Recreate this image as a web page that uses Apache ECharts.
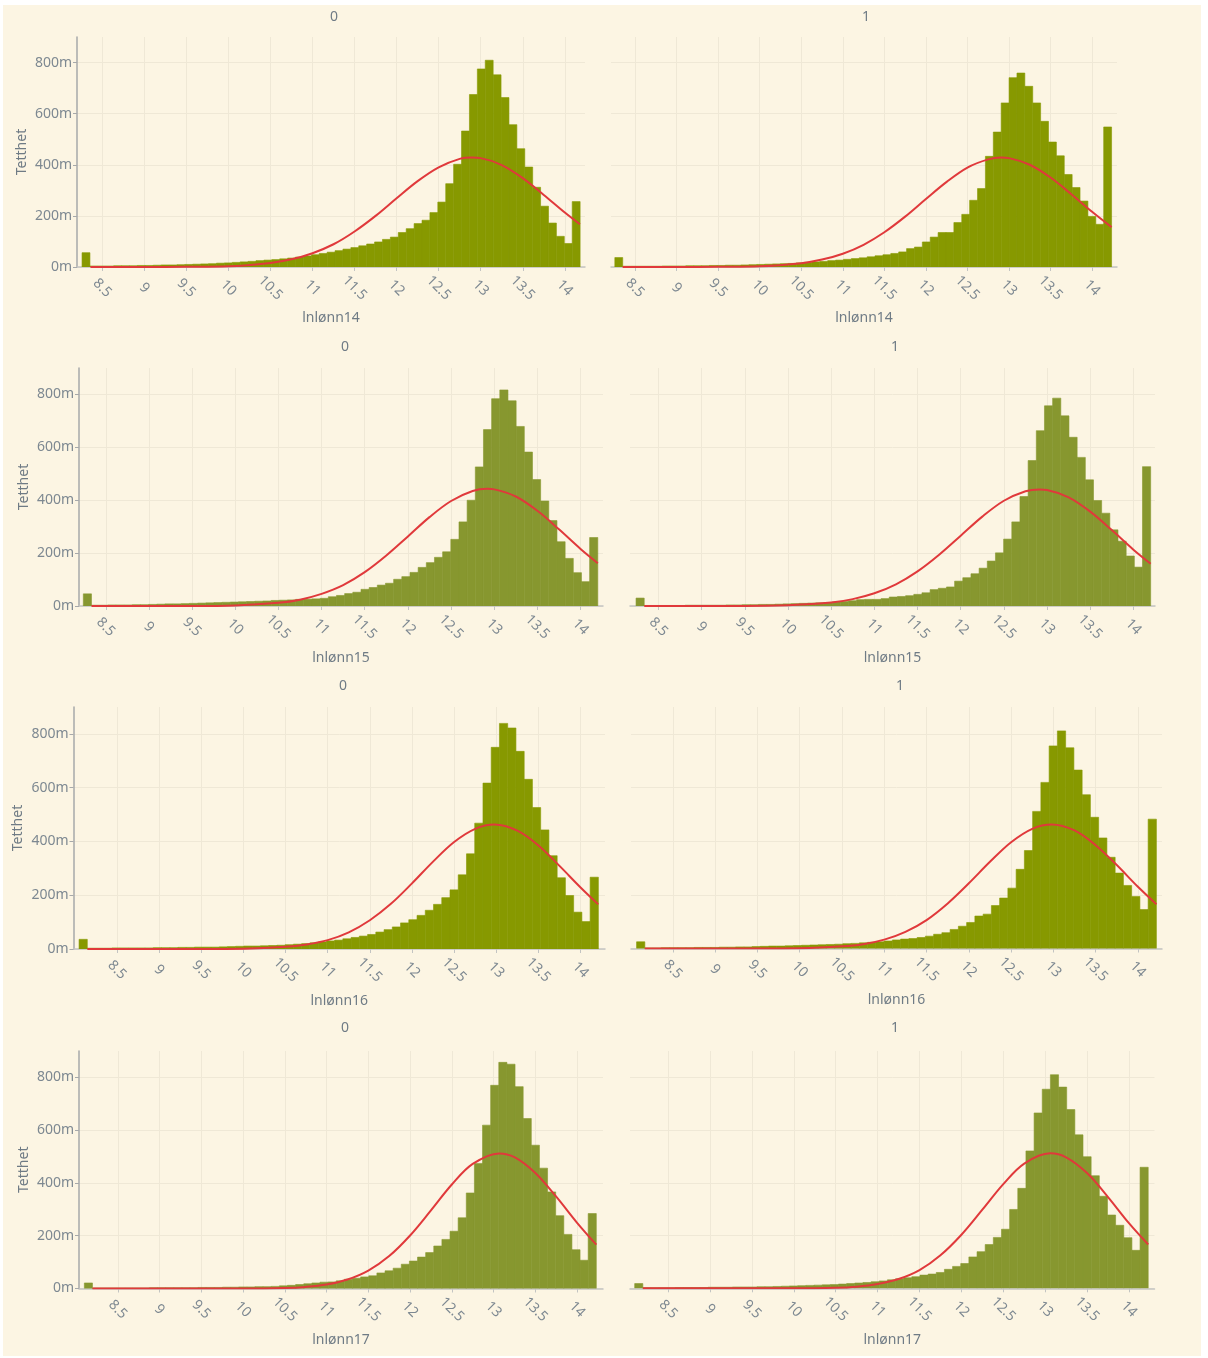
<!DOCTYPE html>
<html>
<head>
<meta charset="utf-8">
<script src="https://cdn.jsdelivr.net/npm/echarts@6/dist/echarts.min.js"></script>
<style>
  html, body { margin: 0; padding: 0; background: #ffffff; }
  #chart { position: absolute; left: 3px; top: 5px; width: 1198px; height: 1351px; background: #fcf5e3; }
</style>
</head>
<body>
<div id="chart"></div>
<script>
// Density histograms of log wage (lnlønn14..17) for groups 0 and 1,
// each with a fitted normal density curve. Densities are in milli-units.

const groupLabels = ['0', '1'];
const varNames = ['lnlønn14', 'lnlønn15', 'lnlønn16', 'lnlønn17'];
const xTicks = [8.5, 9, 9.5, 10, 10.5, 11, 11.5, 12, 12.5, 13, 13.5, 14];
const yTicks = [0, 200, 400, 600, 800];

// Bin edges: first bin lower edge and bin width, per panel (year, group)
const binLow   = [8.26, 8.256, 8.24, 8.24, 8.05, 8.07, 8.1, 8.1];
const binWidth = [0.094, 0.0949, 0.0946, 0.0946, 0.0978, 0.0976, 0.0973, 0.0973];

// Bin densities (63 bins per panel)
const dens14g0 = [56,
  4,4,4,5,5,5,6,6,7,8,8,9,10,11,12,13,15,16,18,20,22,25,27,29,32,35,39,43,48,53,58,64,70,76,83,90,98,
  108,117,135,150,170,183,213,254,326,402,532,675,775,809,752,663,557,463,391,312,238,172,120,92,256];
const dens14g1 = [37,
  3,3,3,3,3,4,4,4,5,5,5,6,6,7,7,8,9,10,11,12,13,14,16,18,20,22,25,27,30,33,36,40,44,48,53,
  59,72,78,98,117,135,135,174,206,261,307,433,528,642,741,759,707,642,570,489,435,362,311,258,198,167,548];
const dens15g0 = [46,
  3,3,4,4,4,5,5,6,7,8,8,9,10,11,12,13,14,15,16,17,18,19,21,22,23,25,26,27,
  29,35,40,47,52,63,70,79,86,101,111,127,146,164,184,205,252,318,400,526,667,784,817,776,679,582,478,397,323,243,180,126,92,259];
const dens15g1 = [30,
  2,2,2,2,2,3,3,3,3,3,4,4,5,5,6,6,7,8,9,10,11,12,13,15,17,20,
  24,25,25,28,34,36,39,44,50,62,67,72,94,107,122,143,170,201,253,318,414,550,663,757,786,719,638,562,477,399,351,288,245,189,147,527];
const dens16g0 = [36,
  3,3,3,4,4,4,4,4,5,5,5,6,6,7,7,7,8,9,10,11,11,12,13,14,16,18,20,23,26,30,
  33,38,43,48,54,63,72,82,97,109,125,144,166,191,220,276,354,468,617,750,839,822,735,631,526,443,347,265,199,137,102,267];
const dens16g1 = [25,
  2,2,3,3,3,3,4,4,4,5,5,6,6,7,8,9,9,10,11,12,13,14,15,16,18,19,21,23,25,28,
  32,35,37,41,46,53,59,71,83,97,121,128,160,188,225,295,365,511,619,755,811,748,665,573,489,412,340,281,235,194,145,482];
const dens17g0 = [21,
  2,2,2,2,2,2,2,3,3,3,3,3,3,4,4,4,5,5,6,6,7,7,8,10,12,15,18,21,
  24,25,29,35,39,44,48,59,67,77,92,104,119,136,161,186,217,268,362,474,619,770,857,850,765,644,543,456,366,276,205,147,107,284];
const dens17g1 = [18,
  2,2,2,2,3,3,3,3,4,4,4,5,5,5,6,6,7,8,9,10,11,12,13,14,16,18,20,22,25,28,32,36,40,
  44,50,54,60,72,83,94,119,139,166,193,224,299,379,521,665,755,810,763,678,582,499,427,349,278,239,192,144,459];

// Fitted normal density curves, [x, density]
const curve14g0 = [[8.36,0],[9,0],[9.5,1],[10,3],[10.5,16],[10.75,30],[11,54],[11.25,89],[11.5,139],[11.75,200],[12,269],[12.25,336],[12.5,390],[12.75,423],[12.9,428],[13,426],[13.25,399],[13.5,348],[13.75,282],[14,213],[14.18,167]];
const curve14g1 = [[8.35,0],[9,0],[9.5,1],[10,3],[10.5,15],[10.75,29],[11,52],[11.25,87],[11.5,136],[11.75,197],[12,266],[12.25,333],[12.5,389],[12.75,421],[12.91,428],[13,426],[13.25,400],[13.5,350],[13.75,285],[14,216],[14.235,156]];
const curve15g0 = [[8.335,0],[9,0],[9.5,0],[10,2],[10.5,12],[10.75,24],[11,46],[11.25,79],[11.5,128],[11.75,191],[12,263],[12.25,336],[12.5,397],[12.75,435],[12.92,443],[13,441],[13.25,414],[13.5,360],[13.75,290],[14,216],[14.2,162]];
const curve15g1 = [[8.335,0],[9,0],[9.5,0],[10,3],[10.5,13],[10.75,26],[11,48],[11.25,82],[11.5,131],[11.75,194],[12,266],[12.25,338],[12.5,398],[12.75,434],[12.91,441],[13,439],[13.25,411],[13.5,357],[13.75,287],[14,213],[14.2,160]];
const curve16g0 = [[8.148,0],[9,0],[9.5,0],[10,1],[10.5,8],[10.75,17],[11,33],[11.25,62],[11.5,107],[11.75,168],[12,244],[12.25,325],[12.5,398],[12.75,447],[12.98,463],[13.25,440],[13.5,385],[13.75,309],[14,229],[14.21,166]];
const curve16g1 = [[8.167,0],[9,0],[9.5,0],[10,1],[10.5,8],[10.75,16],[11,33],[11.25,62],[11.5,106],[11.75,168],[12,243],[12.25,323],[12.5,396],[12.75,446],[12.98,462],[13.25,440],[13.5,385],[13.75,311],[14,230],[14.219,165]];
const curve17g0 = [[8.197,0],[9,0],[9.5,0],[10,0],[10.5,2],[10.75,6],[11,15],[11.25,34],[11.5,68],[11.75,123],[12,201],[12.25,296],[12.5,394],[12.75,472],[13.065,512],[13.25,498],[13.5,438],[13.75,348],[14,249],[14.23,166]];
const curve17g1 = [[8.197,0],[9,0],[9.5,0],[10,0],[10.5,2],[10.75,6],[11,16],[11.25,35],[11.5,69],[11.75,125],[12,203],[12.25,298],[12.5,395],[12.75,473],[13.06,512],[13.25,497],[13.5,437],[13.75,346],[14,247],[14.23,166]];

const densities = [dens14g0, dens14g1, dens15g0, dens15g1, dens16g0, dens16g1, dens17g0, dens17g1];
const curves = [curve14g0, curve14g1, curve15g0, curve15g1, curve16g0, curve16g1, curve17g0, curve17g1];

// ---- layout (page pixel coordinates) ----
const OX = 3, OY = 5;
const layout = [
  { left: 77,   top: 37,   width: 508,   height: 230,   xmin: 8.2,   xmax: 14.24,  tx: 334, ty: 17 },
  { left: 611,  top: 37,   width: 506,   height: 230,   xmin: 8.21,  xmax: 14.30,  tx: 866, ty: 17 },
  { left: 79,   top: 368,  width: 524,   height: 238,   xmin: 8.19,  xmax: 14.26,  tx: 345, ty: 347 },
  { left: 630,  top: 368,  width: 525,   height: 238,   xmin: 8.17,  xmax: 14.25,  tx: 895, ty: 347 },
  { left: 73.5, top: 707,  width: 531.5, height: 242,   xmin: 7.984, xmax: 14.29,  tx: 343, ty: 686 },
  { left: 631,  top: 707,  width: 531,   height: 241.5, xmin: 8.004, xmax: 14.285, tx: 900, ty: 686 },
  { left: 79,   top: 1051, width: 524,   height: 237.5, xmin: 8.036, xmax: 14.31,  tx: 345, ty: 1028 },
  { left: 630,  top: 1051, width: 524.5, height: 237.3, xmin: 8.044, xmax: 14.305, tx: 895, ty: 1028 }
];

const FONT = "'Noto Sans', 'Open Sans', sans-serif";
const TEXT = '#6f7b85';
const LABEL = '#7d8891';
const GRID = '#efe8d6';
const barColors = ['#879900', '#87972f', '#879900', '#87972f'];
const curveColor = '#e0393b';

function binData(i) {
  const lo = binLow[i], w = binWidth[i];
  return densities[i].map((h, j) => [lo + j * w, lo + (j + 1) * w, h]);
}

function makeRender(color) {
  return function (params, api) {
    const p0 = api.coord([api.value(0), api.value(2)]);
    const p1 = api.coord([api.value(1), 0]);
    return {
      type: 'rect',
      shape: { x: p0[0], y: p0[1], width: p1[0] - p0[0], height: p1[1] - p0[1] },
      style: { fill: color, stroke: color, lineWidth: 0.6 }
    };
  };
}

const grids = [], xAxes = [], yAxes = [], series = [], texts = [];

layout.forEach((p, i) => {
  const row = Math.floor(i / 2), col = i % 2;
  grids.push({ left: p.left - OX, top: p.top - OY, width: p.width, height: p.height });

  xAxes.push({
    type: 'value', gridIndex: i, min: p.xmin, max: p.xmax,
    name: varNames[row], nameLocation: 'middle', nameGap: row === 0 ? 44 : 45,
    nameTextStyle: { color: TEXT, fontSize: 14, fontFamily: FONT },
    axisLine: { show: true, onZero: false, lineStyle: { color: '#c3c4c2', width: 1.5 } },
    axisTick: { show: true, length: 4, customValues: xTicks, lineStyle: { color: '#c3c4c2' } },
    axisLabel: { customValues: xTicks, rotate: -45, align: 'center', verticalAlign: 'middle', margin: 21,
                 color: LABEL, fontSize: 14, fontFamily: FONT },
    splitLine: { show: true, lineStyle: { color: GRID, width: 1 } }
  });

  yAxes.push({
    type: 'value', gridIndex: i, min: 0, max: 900,
    name: col === 0 ? 'Tetthet' : '', nameLocation: 'middle', nameGap: 48, nameRotate: 90,
    nameTextStyle: { color: TEXT, fontSize: 14, fontFamily: FONT },
    axisLine: { show: col === 0, lineStyle: { color: '#a7a9aa', width: 1.5 } },
    axisTick: { show: col === 0, length: 4, customValues: yTicks, lineStyle: { color: '#a7a9aa' } },
    axisLabel: { show: col === 0, customValues: yTicks, margin: 5, color: LABEL, fontSize: 14, fontFamily: FONT,
                 formatter: v => v + 'm' },
    splitLine: { show: true, lineStyle: { color: GRID, width: 1 } }
  });

  series.push({
    type: 'custom', xAxisIndex: i, yAxisIndex: i, clip: true,
    renderItem: makeRender(barColors[row]),
    encode: { x: [0, 1], y: 2 },
    data: binData(i), silent: true, z: 2
  });

  series.push({
    type: 'line', xAxisIndex: i, yAxisIndex: i,
    data: curves[i], smooth: 0.35, symbol: 'none', showSymbol: false,
    lineStyle: { color: curveColor, width: 2 }, silent: true, z: 5
  });

  texts.push({
    type: 'text', x: p.tx - OX, y: p.ty - OY,
    style: { text: groupLabels[col], fill: TEXT, fontSize: 14, fontFamily: FONT, align: 'center', verticalAlign: 'middle' }
  });
});

const chart = echarts.init(document.getElementById('chart'), null, { renderer: 'canvas' });
chart.setOption({
  animation: false,
  backgroundColor: 'transparent',
  grid: grids,
  xAxis: xAxes,
  yAxis: yAxes,
  series: series,
  graphic: texts
});
</script>
</body>
</html>
